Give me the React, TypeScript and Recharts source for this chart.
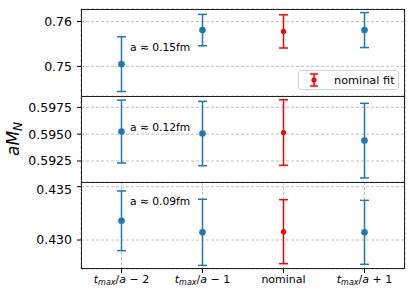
import { ScatterChart, Scatter, XAxis, YAxis, CartesianGrid, ErrorBar } from 'recharts';

const xLabels = ['t_max/a − 2', 't_max/a − 1', 'nominal', 't_max/a + 1'];
const xPos = [0, 1, 2, 3];

// a ≈ 0.15 fm
const m015 = [0.7505, 0.7581, 0.7578, 0.7581];
const e015 = [0.0061, 0.0035, 0.0037, 0.0039];
// a ≈ 0.12 fm
const m012 = [0.59524, 0.59506, 0.59515, 0.5944];
const e012 = [0.00293, 0.0030, 0.00306, 0.00348];
// a ≈ 0.09 fm
const m009 = [0.4318, 0.43072, 0.43078, 0.43072];
const e009 = [0.0028, 0.0031, 0.0030, 0.0030];

const nominalIdx = 2;

const BLUE = '#1f77b4';
const RED = '#ff0000';
const FONT = '"DejaVu Sans", sans-serif';

const panels = [
  { label: 'a ≈ 0.15fm', m: m015, e: e015, domain: [0.7434, 0.7628], ticks: [0.75, 0.76], digits: 2 },
  { label: 'a ≈ 0.12fm', m: m012, e: e012, domain: [0.59054, 0.59856], ticks: [0.5925, 0.595, 0.5975], digits: 4 },
  { label: 'a ≈ 0.09fm', m: m009, e: e009, domain: [0.42728, 0.43544], ticks: [0.43, 0.435], digits: 3 },
];

// chart boxes: top, height, top margin, x-axis height
const boxes = [
  { top: 0, height: 96, mt: 9, xh: 0 },
  { top: 96, height: 86, mt: 0, xh: 0 },
  { top: 182, height: 111, mt: 0, xh: 24 },
];
const annotY = [42, 122, 196];

function XTick(props: any) {
  const { x, y, payload } = props;
  const lab = xLabels[payload.value] ?? '';
  if (!lab.startsWith('t_max/a')) {
    return (
      <text x={x} y={y} dy="0.71em" textAnchor="middle" fontSize={11} fontFamily={FONT} fill="#000">
        {lab}
      </text>
    );
  }
  const rest = lab.slice('t_max/a'.length);
  return (
    <text x={x} y={y} dy="0.71em" textAnchor="middle" fontSize={11} fontFamily={FONT} fill="#000">
      <tspan fontStyle="italic">t</tspan>
      <tspan fontStyle="italic" fontSize={8} dy={2}>max</tspan>
      <tspan dy={-2}>/</tspan>
      <tspan fontStyle="italic">a</tspan>
      <tspan>{rest}</tspan>
    </text>
  );
}

function Dot(props: any) {
  const { cx, cy, fill, r } = props;
  return <circle cx={cx} cy={cy} r={r} fill={fill} />;
}

function Panel({ idx }: { idx: number }) {
  const p = panels[idx];
  const b = boxes[idx];
  const blue = xPos.filter(i => i !== nominalIdx).map(i => ({ x: xPos[i], y: p.m[i], err: p.e[i] }));
  const red = [{ x: xPos[nominalIdx], y: p.m[nominalIdx], err: p.e[nominalIdx] }];
  const last = idx === panels.length - 1;
  return (
    <div style={{ position: 'absolute', left: 0, top: b.top }}>
      <ScatterChart width={415} height={b.height} margin={{ top: b.mt, right: 10, bottom: 0, left: 0 }}>
        <CartesianGrid stroke="#b0b0b0" strokeDasharray="3 2" strokeWidth={0.8} />
        <XAxis
          type="number"
          dataKey="x"
          domain={[-0.5, 3.5]}
          ticks={xPos}
          height={b.xh}
          axisLine={false}
          tickLine={last ? { stroke: '#000' } : false}
          tickSize={4}
          tick={last ? <XTick /> : false}
        />
        <YAxis
          type="number"
          dataKey="y"
          domain={p.domain}
          ticks={p.ticks}
          width={81}
          axisLine={false}
          tickLine={{ stroke: '#000' }}
          tickSize={4}
          tickMargin={5}
          tick={{ fontSize: 12.5, fill: '#000', fontFamily: FONT }}
          tickFormatter={(v: number) => v.toFixed(p.digits)}
          allowDataOverflow
        />
        <Scatter data={blue} fill={BLUE} isAnimationActive={false} shape={(s: any) => <Dot {...s} r={3.3} fill={BLUE} />}>
          <ErrorBar dataKey="err" direction="y" width={4.5} stroke={BLUE} strokeWidth={1.5} />
        </Scatter>
        <Scatter data={red} fill={RED} isAnimationActive={false} shape={(s: any) => <Dot {...s} r={2.6} fill={RED} />}>
          <ErrorBar dataKey="err" direction="y" width={4.5} stroke={RED} strokeWidth={1.5} />
        </Scatter>
      </ScatterChart>
      <div
        style={{
          position: 'absolute', left: 130, top: annotY[idx] - b.top, fontFamily: FONT,
          fontSize: 10.7, color: '#000', whiteSpace: 'nowrap', lineHeight: '12px',
        }}
      >
        {p.label}
      </div>
    </div>
  );
}

export default function App() {
  return (
    <div style={{ position: 'absolute', left: 0, top: 0, width: 415, height: 293, background: '#fff', overflow: 'hidden' }}>
      {panels.map((_, i) => <Panel key={i} idx={i} />)}
      {/* panel frames, adjacent borders overlap on one pixel row */}
      {boxes.map((b, i) => (
        <div
          key={i}
          style={{
            position: 'absolute', left: 81, top: b.top + b.mt, width: 324,
            height: b.height - b.mt - b.xh + (i < boxes.length - 1 ? 1 : 0), boxSizing: 'border-box',
            border: '1px solid #222', pointerEvents: 'none',
          }}
        />
      ))}
      {/* legend */}
      <div
        style={{
          position: 'absolute', left: 298, top: 70, width: 101, height: 20, boxSizing: 'border-box',
          border: '1px solid #d6d6d6', borderRadius: 3, background: 'rgba(255,255,255,0.8)',
          fontFamily: FONT, fontSize: 11.3, display: 'flex', alignItems: 'center',
        }}
      >
        <svg width={30} height={18} style={{ flex: 'none' }}>
          <line x1={15} y1={3} x2={15} y2={15} stroke={RED} strokeWidth={1.5} />
          <line x1={11} y1={3} x2={19} y2={3} stroke={RED} strokeWidth={1.5} />
          <line x1={11} y1={15} x2={19} y2={15} stroke={RED} strokeWidth={1.5} />
          <circle cx={15} cy={9} r={2.6} fill={RED} />
        </svg>
        <span style={{ marginLeft: 5 }}>nominal fit</span>
      </div>
      {/* y label */}
      <div
        style={{
          position: 'absolute', left: 15, top: 139, transform: 'translate(-50%, -50%) rotate(-90deg)',
          fontFamily: FONT, fontSize: 17, whiteSpace: 'nowrap', lineHeight: '20px',
        }}
      >
        <i>a</i><i>M</i><sub style={{ fontSize: 12, fontStyle: 'italic', verticalAlign: '-3px' }}>N</sub>
      </div>
    </div>
  );
}
